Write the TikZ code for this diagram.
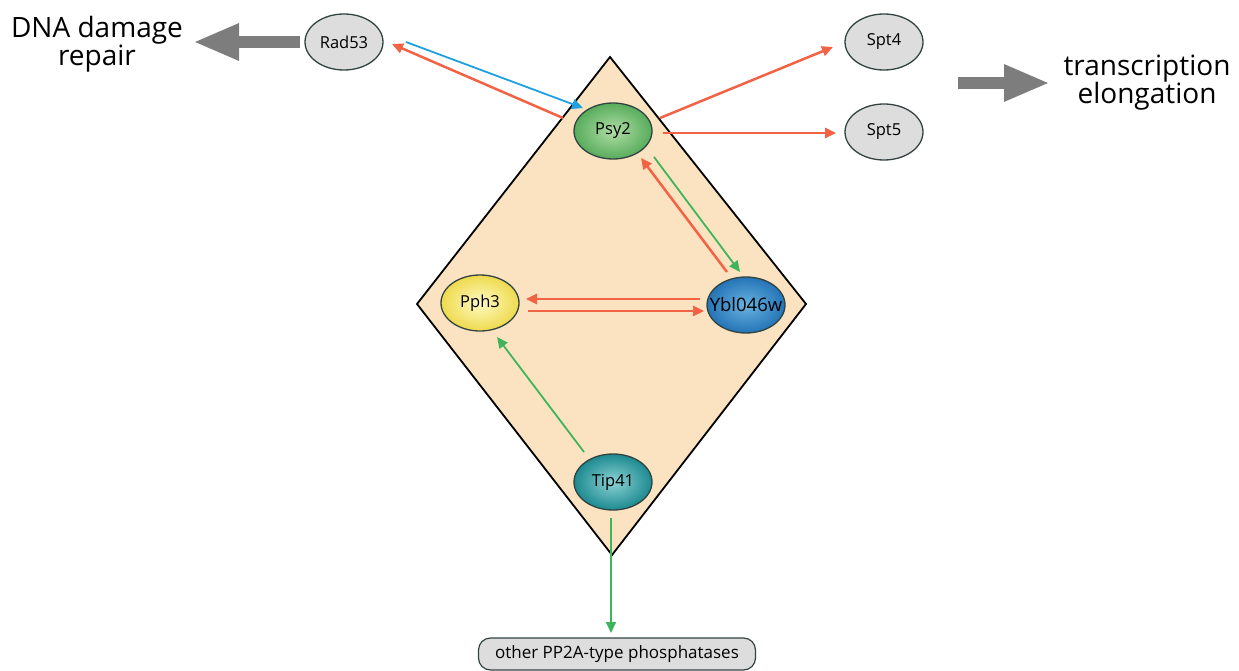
\documentclass[tikz,border=0pt]{standalone}
\usepackage{fontspec}
\setmainfont{Open Sans}
\usetikzlibrary{shapes.geometric,arrows.meta}
\definecolor{peach}{RGB}{251,227,193}
\definecolor{redarr}{RGB}{242,98,68}
\definecolor{greenarr}{RGB}{62,180,92}
\definecolor{bluearr}{RGB}{30,160,225}
\definecolor{bigarr}{RGB}{125,125,125}
\definecolor{nodegray}{RGB}{221,221,221}
\definecolor{nodeedge}{RGB}{50,68,66}
\tikzset{
  prot/.style={ellipse, draw=nodeedge, line width=1.3pt, minimum width=78pt, minimum height=56pt, inner sep=0pt, font=\fontsize{16.5}{18}\selectfont},
  grayprot/.style={prot, fill=nodegray},
  shadeprot/.style={prot, shading=radial},
  redline/.style={draw=redarr, line width=2.5pt, -{Triangle[length=11pt,width=10pt]}},
  greenline/.style={draw=greenarr, line width=1.8pt, -{Triangle[length=11pt,width=10pt]}},
  blueline/.style={draw=bluearr, line width=1.8pt, -{Triangle[length=11pt,width=10pt]}},
  bigarrow/.style={draw=bigarr, line width=12pt, -{Triangle[length=46pt,width=34pt]}},
  outcome/.style={align=center, font=\fontsize{28}{28}\selectfont, inner sep=0pt},
  boxnode/.style={draw=nodeedge, fill=nodegray, rounded corners=12pt, line width=1.2pt, minimum width=277pt, minimum height=32pt, font=\fontsize{17}{19}\selectfont}
}
\begin{document}
\begin{tikzpicture}[x=1pt,y=-1pt]
\useasboundingbox (0,0) rectangle (1239,671);
% diamond
\draw[fill=peach, line width=1.8pt, line join=miter] (610,57) -- (806,304) -- (612,555) -- (417,304) -- cycle;
% nodes
\node[grayprot] (rad53) at (344,42) {Rad53};
\node[grayprot] (spt4) at (884,42) {Spt4};
\node[grayprot] (spt5) at (884,132) {Spt5};
\node[shadeprot, inner color={rgb,255:red,175;green,222;blue,165}, outer color={rgb,255:red,88;green,172;blue,92}] (psy2) at (613,131) {Psy2};
\node[shadeprot, inner color={rgb,255:red,255;green,250;blue,195}, outer color={rgb,255:red,238;green,218;blue,78}] (pph3) at (480,303) {Pph3};
\node[shadeprot, inner xsep=-9pt, inner ysep=-4pt, inner color={rgb,255:red,105;green,178;blue,225}, outer color={rgb,255:red,36;green,116;blue,182}, font=\fontsize{18.5}{20}\selectfont] (ybl) at (746,305) {Ybl046w};
\node[shadeprot, inner color={rgb,255:red,140;green,210;blue,212}, outer color={rgb,255:red,28;green,138;blue,144}] (tip41) at (613,482) {Tip41};
\node[boxnode] (pp2a) at (617,654) {other PP2A-type phosphatases};
\node[outcome] (dna) at (97,44) {DNA damage\\repair};
\node[outcome] (trans) at (1147,83) {transcription\\elongation};
% big arrows
\draw[bigarrow] ([shift={(-44,0)}]rad53.center) -- ([shift={(96,-2)}]dna.center);
\draw[bigarrow] ([shift={(74,41)}]spt4.center) -- ([shift={(-97,0)}]trans.center);
% connectors
\draw[redline] ([shift={(-50,-13)}]psy2.center) -- ([shift={(48,2)}]rad53.center);
\draw[blueline] ([shift={(62,0)}]rad53.center) -- ([shift={(-30,-23)}]psy2.center);
\draw[redline] ([shift={(47,-13)}]psy2.center) -- ([shift={(-51,5)}]spt4.center);
\draw[redline] ([shift={(50,2)}]psy2.center) -- ([shift={(-48,1)}]spt5.center);
\draw[redline] ([shift={(-19,-33)}]ybl.center) -- ([shift={(28,27)}]psy2.center);
\draw[greenline] ([shift={(41,26)}]psy2.center) -- ([shift={(-6,-33)}]ybl.center);
\draw[redline] ([shift={(-46,-6)}]ybl.center) -- ([shift={(46,-4)}]pph3.center);
\draw[redline] ([shift={(48,8)}]pph3.center) -- ([shift={(-42,6)}]ybl.center);
\draw[greenline] ([shift={(-29,-30)}]tip41.center) -- ([shift={(17,34)}]pph3.center);
\draw[greenline] ([shift={(-2,36)}]tip41.center) -- ([shift={(-6,-21)}]pp2a.center);
\end{tikzpicture}
\end{document}
